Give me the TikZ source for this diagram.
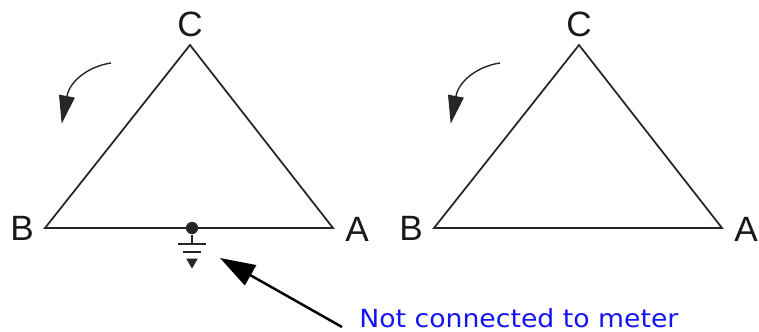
\documentclass[tikz,border=0pt]{standalone}
\usepackage{xcolor}
\usepackage{fontspec}
\setmainfont{Liberation Sans}
\newfontfamily\notefont[FakeStretch=1.07]{DejaVu Sans}
\usetikzlibrary{
    arrows.meta,
    shapes.geometric,
    calc
}
\definecolor{noteblue}{RGB}{20,20,245}

\begin{document}
\begin{tikzpicture}[
    x=0.02cm, y=-0.02cm,
    every node/.style={font=\fontsize{20}{22}\selectfont, text=black!90, inner sep=0pt},
    wire/.style={draw=black!85, line width=1pt, line join=miter},
    turn/.style={draw=black!85, line width=0.8pt, -{Triangle[length=16pt, width=9pt]}, shorten >=-1pt},
    pointer/.style={draw=black, line width=1.4pt, -{Triangle[length=20pt, width=13pt]}},
    note/.style={font=\notefont\fontsize{14.2}{16}\selectfont, text=noteblue},
    solder/.style={circle, fill=black!85, minimum size=7pt},
    earthtip/.style={regular polygon, regular polygon sides=3, shape border rotate=180, fill=black!85, minimum size=7.5pt}
]
\useasboundingbox (0,0) rectangle (759,331);

% left triangle
\coordinate (c1) at (190,45);
\coordinate (b1) at (45,228);
\coordinate (a1) at (333,228);
\draw[wire] (c1) -- (b1) -- (a1) -- cycle;
\node (labelc1) at (190,24) {C};
\node (labelb1) at (22,228) {B};
\node (labela1) at (357,229) {A};

% right triangle
\coordinate (c2) at (579,45);
\coordinate (b2) at (434,228);
\coordinate (a2) at (722,228);
\draw[wire] (c2) -- (b2) -- (a2) -- cycle;
\node (labelc2) at (579,24) {C};
\node (labelb2) at (411,228) {B};
\node (labela2) at (746,229) {A};

% rotation arrows
\coordinate (rot1s) at (111,63);
\coordinate (rot1e) at (62,122);
\coordinate (rot2s) at (500,63);
\coordinate (rot2e) at (451,122);
\draw[turn] (rot1s) .. controls (90,66) and (70,80) .. (rot1e);
\draw[turn] (rot2s) .. controls (479,66) and (459,80) .. (rot2e);

% earth on the left triangle
\node[solder] (tap) at (192,228) {};
\coordinate (earth) at (192,244);
\draw[wire] (tap) -- (earth);
\draw[wire] (178,244) -- (206,244);
\draw[wire] (183,252) -- (201,252);
\node[earthtip] (tip) at (192,262) {};

% note
\node[note, anchor=west] (note) at (359,318) {Not connected to meter};
\coordinate (notetail) at (342,327);
\coordinate (notehead) at (220,258);
\draw[pointer] (notetail) -- (notehead);

\end{tikzpicture}
\end{document}
